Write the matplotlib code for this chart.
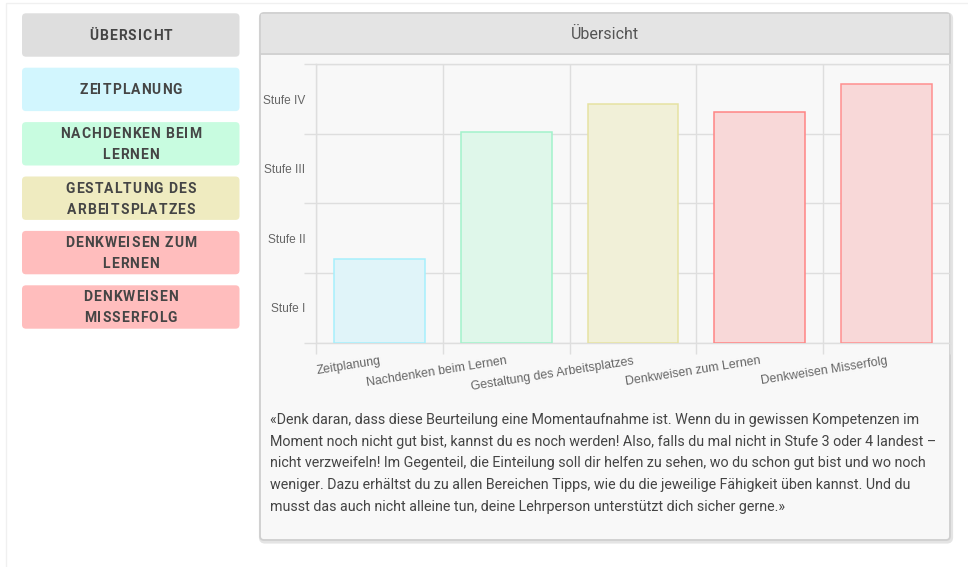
import matplotlib
matplotlib.use("Agg")
import matplotlib.pyplot as plt
from matplotlib.patches import FancyBboxPatch, Rectangle
from matplotlib.font_manager import FontProperties, findfont, get_font
from matplotlib.ticker import FixedLocator, NullFormatter

# data
categories = ["Zeitplanung", "Nachdenken beim Lernen", "Gestaltung des Arbeitsplatzes",
              "Denkweisen zum Lernen", "Denkweisen Misserfolg"]
values = [1.2, 3.03, 3.43, 3.31, 3.71]
stufen = ["Stufe I", "Stufe II", "Stufe III", "Stufe IV"]
fill_colors = ["#e0f4f9", "#dff7ea", "#f1f0d8", "#f8d8d8", "#f8d8d8"]
edge_colors = ["#a6f0fc", "#a2f2cb", "#e6e2a2", "#ff8484", "#ff8f8f"]

menu_labels = [["ÜBERSICHT"], ["ZEITPLANUNG"], ["NACHDENKEN BEIM", "LERNEN"],
               ["GESTALTUNG DES", "ARBEITSPLATZES"], ["DENKWEISEN ZUM", "LERNEN"],
               ["DENKWEISEN", "MISSERFOLG"]]
menu_colors = ["#dedede", "#d2f6fe", "#c8fce0", "#efebc0", "#ffbdbd", "#ffbdbd"]

title = "Übersicht"
quote_lines = [
    "«Denk daran, dass diese Beurteilung eine Momentaufnahme ist. Wenn du in gewissen Kompetenzen im",
    "Moment noch nicht gut bist, kannst du es noch werden! Also, falls du mal nicht in Stufe 3 oder 4 landest –",
    "nicht verzweifeln! Im Gegenteil, die Einteilung soll dir helfen zu sehen, wo du schon gut bist und wo noch",
    "weniger. Dazu erhältst du zu allen Bereichen Tipps, wie du die jeweilige Fähigkeit üben kannst. Und du",
    "musst das auch nicht alleine tun, deine Lehrperson unterstützt dich sicher gerne.»",
]

W, H = 968, 567
fig = plt.figure(figsize=(W / 100, H / 100), dpi=100)
fig.patch.set_facecolor("white")

# background axes in pixel coords
bg = fig.add_axes([0, 0, 1, 1])
bg.set_xlim(0, W)
bg.set_ylim(H, 0)
bg.axis("off")

# faint outer container
bg.add_patch(Rectangle((6, 3), W, H, facecolor="white", edgecolor="#f0f0f0", lw=1))

btn_prop = FontProperties(family="Roboto", weight="bold")
btn_size = 10.0


def spaced_text(ax, xc, yc, s, prop, size, spacing, color):
    font = get_font(findfont(prop))
    font.set_size(size, 100)
    ws = [font.load_char(ord(c)).linearHoriAdvance / 65536 for c in s]
    total = sum(ws) + spacing * (len(s) - 1)
    x = xc - total / 2
    base = yc + 0.711 * size * 100 / 72 / 2
    for c, w in zip(s, ws):
        ax.text(x, base, c, ha="left", va="baseline", fontproperties=prop,
                fontsize=size, color=color)
        x += w + spacing


# menu buttons
for i, (lines, col) in enumerate(zip(menu_labels, menu_colors)):
    top = 13.3 + 54.4 * i
    bg.add_patch(FancyBboxPatch((22, top), 217.5, 43.4,
                                boxstyle="round,pad=0,rounding_size=4",
                                facecolor=col, edgecolor="none"))
    cy = top + 21.7
    if len(lines) == 1:
        spaced_text(bg, 130.7, cy, lines[0], btn_prop, btn_size, 1.0, "#454545")
    else:
        spaced_text(bg, 130.7, cy - 10.5, lines[0], btn_prop, btn_size, 1.0, "#454545")
        spaced_text(bg, 130.7, cy + 10.5, lines[1], btn_prop, btn_size, 1.0, "#454545")

# card
bg.add_patch(FancyBboxPatch((261, 14.5), 690, 527, boxstyle="round,pad=0,rounding_size=4",
                            facecolor="none", edgecolor="#e4e4e4", lw=3))
bg.add_patch(FancyBboxPatch((260, 13), 690, 527, boxstyle="round,pad=0,rounding_size=4",
                            facecolor="#f8f8f8", edgecolor="#cfcfcf", lw=1.3))
bg.add_patch(Rectangle((260.7, 13.7), 688.6, 39.6, facecolor="#e4e4e4", edgecolor="none"))
bg.plot([260.7, 949.3], [53.5, 53.5], color="#cfcfcf", lw=1.3)
bg.text(605, 34, title, ha="center", va="center", family="Roboto", fontsize=11.5,
        color="#555555")

# quote text
for k, line in enumerate(quote_lines):
    bg.text(270, 420 + 21.7 * k, line, ha="left", va="center", family="Roboto",
            fontsize=10.25, color="#444444")

# chart
x0, x1, ytop, ybot = 316, 950, 64.3, 342.7
ax = fig.add_axes([x0 / W, 1 - ybot / H, (x1 - x0) / W, (ybot - ytop) / H])
ax.set_facecolor("none")
xs = list(range(len(categories)))
ax.bar(xs, values, width=0.715, color=fill_colors, edgecolor=edge_colors, linewidth=1.1,
       zorder=3)
ax.set_xlim(-0.5, len(categories) - 0.5)
ax.set_ylim(0, len(stufen))

grid_col = "#dedede"
for s in ax.spines.values():
    s.set_color(grid_col)
    s.set_linewidth(1)

ax.xaxis.set_major_locator(FixedLocator(xs))
ax.set_xticklabels(categories, rotation=9, ha="right", va="top", rotation_mode="anchor",
                   family="Liberation Sans", fontsize=8.9, color="#666666")
ax.xaxis.set_minor_locator(FixedLocator([i - 0.5 for i in range(len(categories) + 1)]))
ax.tick_params(axis="x", which="major", length=0, pad=8.8)
ax.tick_params(axis="x", which="minor", length=8, color=grid_col, width=1)

ax.yaxis.set_major_locator(FixedLocator(range(len(stufen) + 1)))
ax.yaxis.set_major_formatter(NullFormatter())
ax.yaxis.set_minor_locator(FixedLocator([i + 0.5 for i in range(len(stufen))]))
ax.set_yticklabels(stufen, minor=True, family="Liberation Sans", fontsize=8.6,
                   color="#666666")
ax.tick_params(axis="y", which="major", length=9, color=grid_col, width=1)
ax.tick_params(axis="y", which="minor", length=0, pad=7.5)
ax.grid(True, which="major", axis="y", color=grid_col, lw=1, zorder=0)
ax.grid(True, which="minor", axis="x", color=grid_col, lw=1, zorder=0)

fig.savefig("out.png", dpi=100, facecolor="white")
